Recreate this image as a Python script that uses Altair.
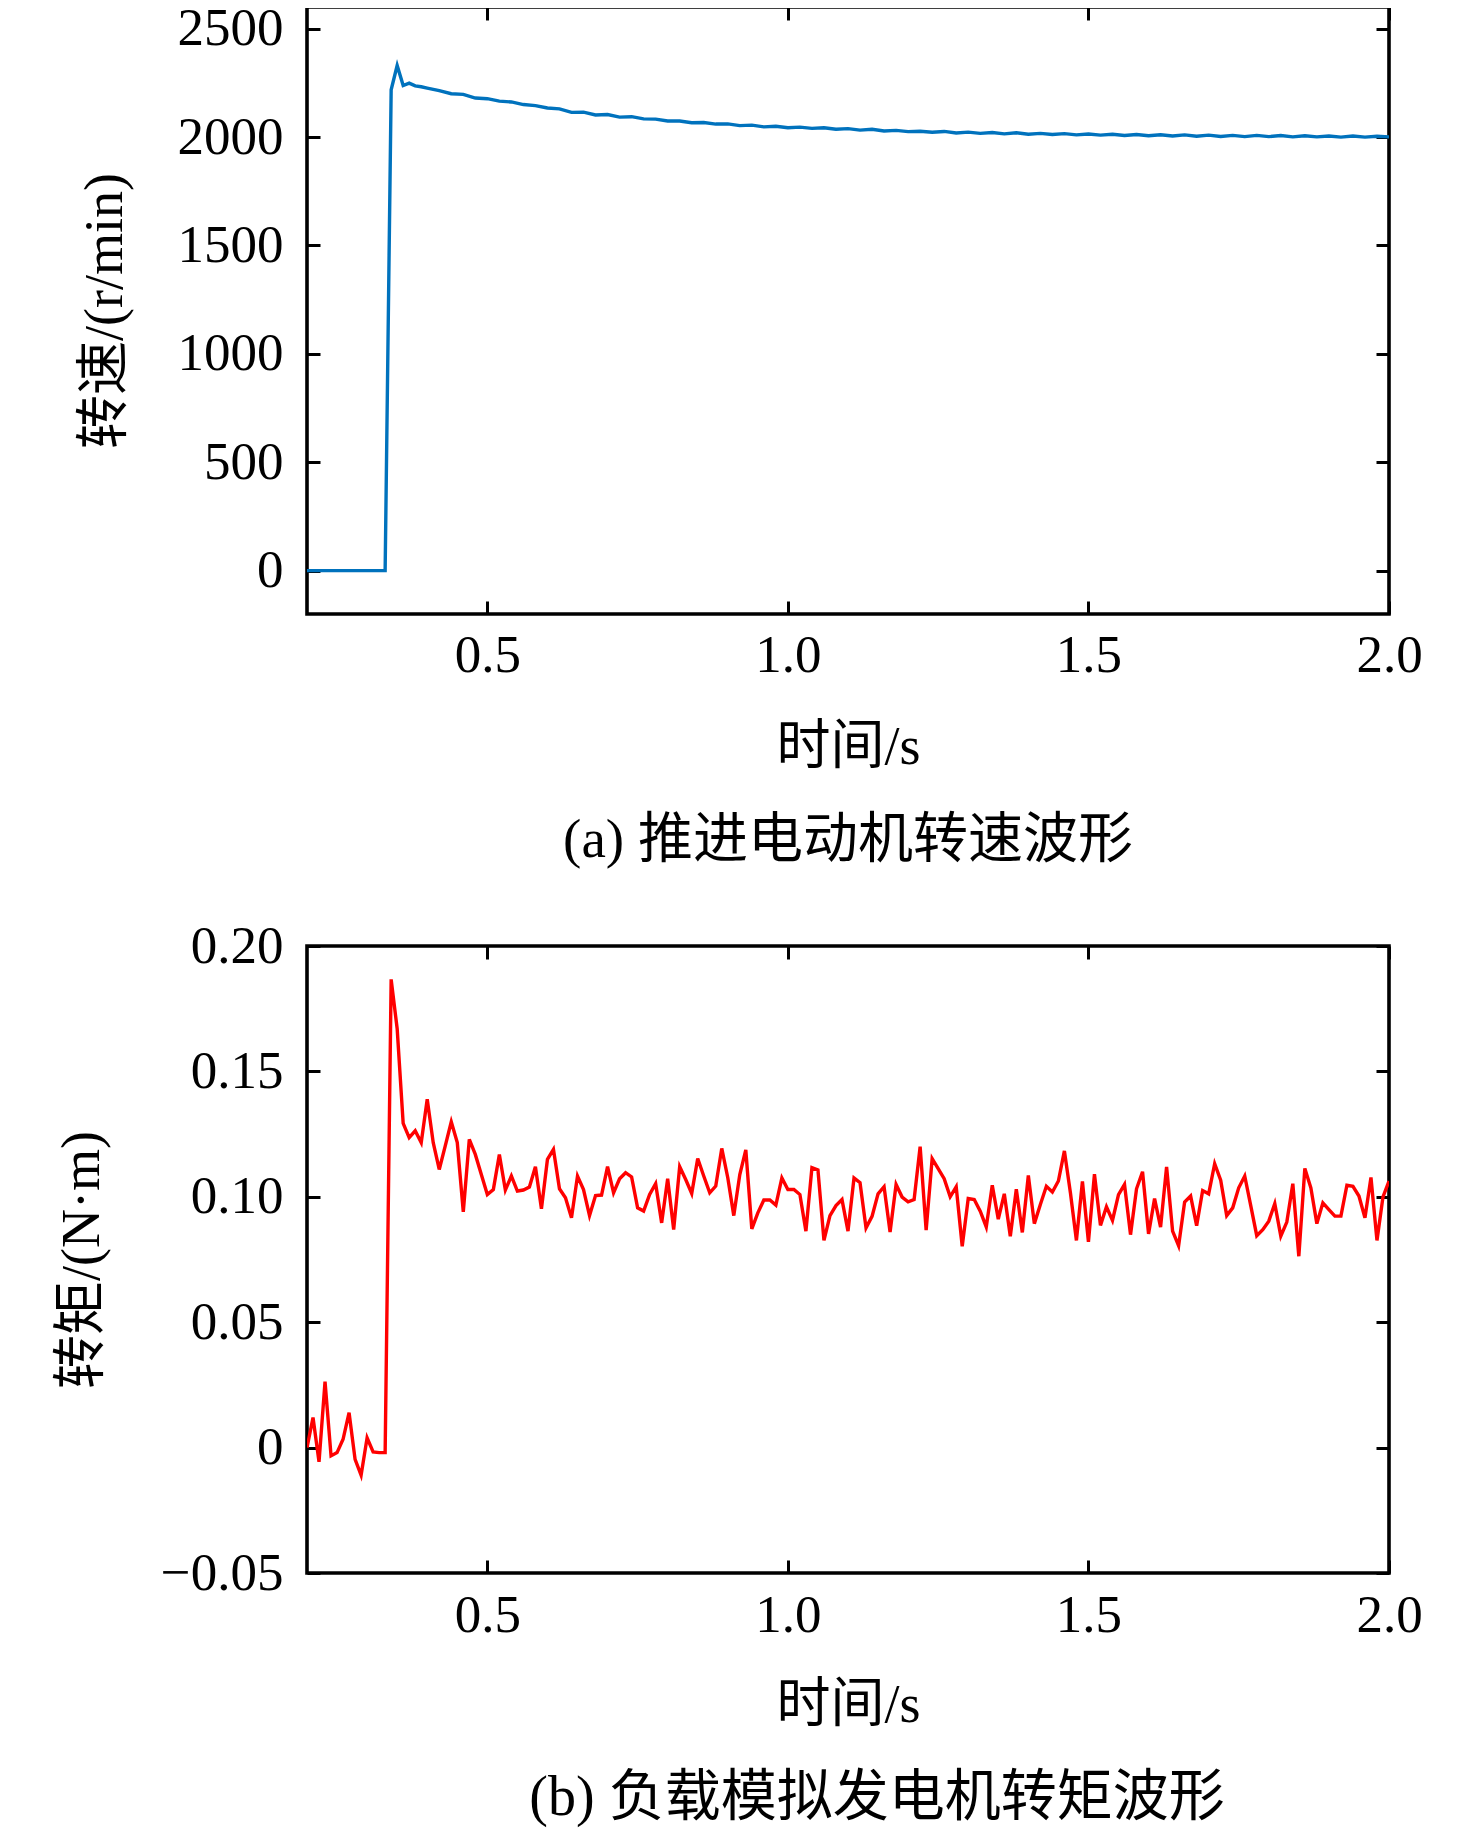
import altair as alt
import pandas as pd

# ---------------- data ----------------
speed_t = [0.20, 0.33, 0.34, 0.35, 0.36, 0.37, 0.38, 0.39,
           0.40, 0.42, 0.44, 0.46, 0.48, 0.50, 0.52, 0.54, 0.56, 0.58,
           0.60, 0.62, 0.64, 0.66, 0.68, 0.70, 0.72, 0.74, 0.76, 0.78,
           0.80, 0.82, 0.84, 0.86, 0.88, 0.90, 0.92, 0.94, 0.96, 0.98,
           1.00, 1.02, 1.04, 1.06, 1.08, 1.10, 1.12, 1.14, 1.16, 1.18,
           1.20, 1.22, 1.24, 1.26, 1.28, 1.30, 1.32, 1.34, 1.36, 1.38,
           1.40, 1.42, 1.44, 1.46, 1.48, 1.50, 1.52, 1.54, 1.56, 1.58,
           1.60, 1.62, 1.64, 1.66, 1.68, 1.70, 1.72, 1.74, 1.76, 1.78,
           1.80, 1.82, 1.84, 1.86, 1.88, 1.90, 1.92, 1.94, 1.96, 1.98, 2.00]
speed_v = [0, 0, 2218, 2330, 2238, 2249, 2236, 2232,
           2226, 2214, 2200, 2197, 2180, 2177, 2166, 2162, 2150, 2145,
           2134, 2130, 2114, 2115, 2102, 2104, 2092, 2094, 2084, 2083,
           2074, 2074, 2066, 2067, 2060, 2061, 2053, 2055, 2047, 2050,
           2043, 2046, 2040, 2043, 2036, 2039, 2032, 2036, 2028, 2031,
           2025, 2027, 2022, 2026, 2019, 2023, 2017, 2021, 2015, 2020,
           2013, 2017, 2012, 2016, 2010, 2014, 2009, 2013, 2007, 2012,
           2006, 2011, 2005, 2010, 2004, 2009, 2003, 2008, 2002, 2008,
           2002, 2007, 2001, 2006, 2001, 2005, 2000, 2005, 2000, 2004, 2001]

# torque sampled every 0.01 s from 0.20 s to 2.00 s
torque_v = [
    0.000, 0.012, -0.0057, 0.0263, -0.0033, -0.002, 0.0033, 0.0139, -0.0047, -0.011,
    0.0039, -0.0017, -0.002, -0.002, 0.1867, 0.167, 0.1293, 0.1236, 0.1263, 0.1216,
    0.1389, 0.1216, 0.1109, 0.1203, 0.1299, 0.1216, 0.094, 0.1229, 0.1169, 0.1089,
    0.1009, 0.1029, 0.1169, 0.1027, 0.1083, 0.1023, 0.1027, 0.1039, 0.112, 0.0952,
    0.1149, 0.1189, 0.1032, 0.0996, 0.0916, 0.1083, 0.1029, 0.0925, 0.1005, 0.1007,
    0.112, 0.1016, 0.1072, 0.1096, 0.1079, 0.0956, 0.0943, 0.1009, 0.1052, 0.0896,
    0.1072, 0.0869, 0.112, 0.1069, 0.1013, 0.1153, 0.1083, 0.1016, 0.1043, 0.1193,
    0.1076, 0.0925, 0.1089, 0.1187, 0.0872, 0.0936, 0.0987, 0.0987, 0.0967, 0.1075,
    0.1029, 0.1029, 0.1009, 0.0863, 0.1116, 0.1107, 0.0826, 0.0925, 0.0965, 0.0989,
    0.0863, 0.1075, 0.1056, 0.0876, 0.0922, 0.1012, 0.104, 0.086, 0.1049, 0.0999,
    0.098, 0.0989, 0.12, 0.0867, 0.1152, 0.1112, 0.1072, 0.1, 0.104, 0.0803,
    0.0993, 0.0989, 0.0943, 0.088, 0.1046, 0.0911, 0.1012, 0.0843, 0.103, 0.0858,
    0.1085, 0.0893, 0.0969, 0.1042, 0.1019, 0.1063, 0.1183, 0.1016, 0.0826, 0.1061,
    0.082, 0.109, 0.0886, 0.096, 0.0906, 0.1009, 0.1049, 0.0849, 0.1032, 0.11,
    0.0852, 0.0993, 0.0879, 0.1119, 0.0863, 0.0805, 0.0979, 0.1003, 0.0885, 0.1025,
    0.1012, 0.1132, 0.1066, 0.0925, 0.0956, 0.1036, 0.1083, 0.0965, 0.0845, 0.0869,
    0.0903, 0.0973, 0.0843, 0.0899, 0.1052, 0.0763, 0.1113, 0.1036, 0.0893, 0.0976,
    0.0949, 0.0923, 0.0923, 0.1046, 0.1042, 0.1003, 0.0916, 0.1077, 0.0826, 0.1,
    0.1063]
torque_t = [round(0.2 + 0.01 * i, 2) for i in range(len(torque_v))]

x_ticks = [0.5, 1.0, 1.5, 2.0]
speed_ticks = [0, 500, 1000, 1500, 2000, 2500]
torque_ticks = [-0.05, 0.0, 0.05, 0.10, 0.15, 0.20]

FONT = "Liberation Serif, Noto Sans CJK SC"


def panel(df, color, ydomain, yticks, ylabel_expr, ytitle, ytitle_pad, xlab_pad,
          xtitle_pad, caption, height, cap_size, cap_dx, cap_offset):
    xs = alt.Scale(domain=[0.2, 2.0], nice=False, zero=False)
    ys = alt.Scale(domain=ydomain, nice=False, zero=False)
    tick = dict(domain=False, grid=False, offset=-13, tickSize=13, tickWidth=3,
                tickColor="black")
    lab = dict(labelFont=FONT, labelFontSize=53, labelColor="black",
               labelFlush=False, labelOverlap=False)
    ttl = dict(titleFont=FONT, titleFontSize=54, titleColor="black",
               titleFontWeight="normal")
    base = alt.Chart(df)
    main = base.mark_line(color=color, strokeWidth=3.4, clip=True).encode(
        x=alt.X("t:Q", scale=xs, title="时间/s",
                axis=alt.Axis(orient="bottom", values=x_ticks, format=".1f",
                              labelPadding=xlab_pad, titlePadding=xtitle_pad,
                              **tick, **lab, **ttl)),
        y=alt.Y("v:Q", scale=ys, title=ytitle,
                axis=alt.Axis(orient="left", values=yticks, labelExpr=ylabel_expr,
                              labelPadding=24, titlePadding=ytitle_pad,
                              **tick, **lab, **ttl)),
    )
    mirror = base.mark_line(strokeOpacity=0).encode(
        x=alt.X("t:Q", scale=xs, title=None,
                axis=alt.Axis(orient="top", values=x_ticks, labels=False, **tick)),
        y=alt.Y("v:Q", scale=ys, title=None,
                axis=alt.Axis(orient="right", values=yticks, labels=False, **tick)),
    )
    return alt.layer(main, mirror).resolve_axis(
        x="independent", y="independent"
    ).properties(
        width=1082, height=height,
        title=alt.TitleParams(caption, orient="bottom", anchor="middle",
                              font=FONT, fontSize=cap_size, fontWeight="normal",
                              color="black", offset=cap_offset, dx=cap_dx,
                              baseline="top"),
    )


speed_df = pd.DataFrame({"t": speed_t, "v": speed_v})
torque_df = pd.DataFrame({"t": torque_t, "v": torque_v})

top = panel(speed_df, "#0072BD", [-200, 2600], speed_ticks,
            "format(datum.value, 'd')", "转速/(r/min)", 45, 15, 38,
            "(a) 推进电动机转速波形", 607, 55, 0, 40)
bottom = panel(torque_df, "#FF0000", [-0.05, 0.20], torque_ticks,
               "datum.value == 0 ? '0' : format(datum.value, '.2f')", "转矩/(N·m)",
               51, 16, 36,
               "(b) 负载模拟发电机转矩波形", 627, 56, 29, 39)

chart = alt.vconcat(top, bottom, spacing=48).properties(
    padding={"left": 45, "top": -8, "right": 10, "bottom": 5}
).configure_view(stroke="black", strokeWidth=3.6)

chart.save("out.html", embed_options={"renderer": "svg", "actions": False})
